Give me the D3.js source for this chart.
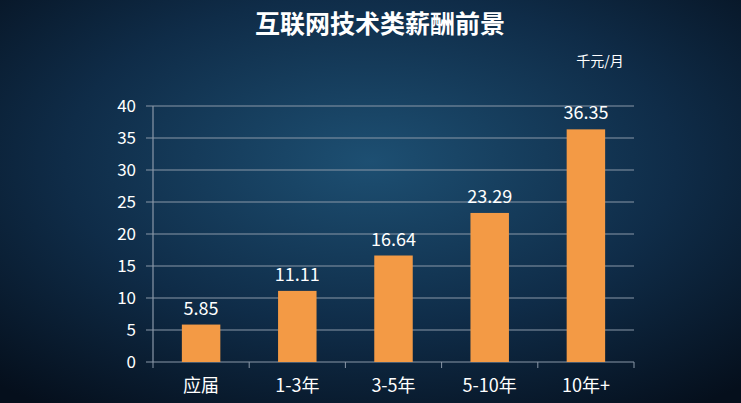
<!DOCTYPE html><html><head><meta charset="utf-8"><script src="https://cdn.jsdelivr.net/npm/d3@7"></script>
<style>body{margin:0;}svg{display:block;}</style></head><body><svg id="c" width="741" height="403"></svg>
<script>
const categories=["应届","1-3年","3-5年","5-10年","10年+"];
const values=[5.85,11.11,16.64,23.29,36.35];
const yTicks=[0,5,10,15,20,25,30,35,40];
const title="互联网技术类薪酬前景";
const unit="千元/月";
const svg=d3.select("#c");
const defs=svg.append("defs");
const g0=defs.append("radialGradient").attr("id","bg").attr("cx","50%").attr("cy","40%").attr("r","75%");
g0.append("stop").attr("offset","0%").attr("stop-color","#1d4f72");
g0.append("stop").attr("offset","55%").attr("stop-color","#0f2c48");
g0.append("stop").attr("offset","100%").attr("stop-color","#050f1c");
svg.append("rect").attr("width",741).attr("height",403).attr("fill","url(#bg)");
const font="'Noto Sans CJK SC','Noto Sans',sans-serif";
svg.append("text").attr("x",380).attr("y",33).attr("text-anchor","middle").attr("fill","#fff")
 .attr("font-family",font).attr("font-weight","bold").attr("font-size",25).text(title);
svg.append("text").attr("x",600).attr("y",66).attr("text-anchor","middle").attr("fill","#fff")
 .attr("font-family",font).attr("font-size",14).text(unit);
const x=d3.scaleBand().domain(categories).range([153,634]).paddingInner(0.6).paddingOuter(0.3);
const y=d3.scaleLinear().domain([0,40]).range([362,106]);
svg.append("g").selectAll("line").data(yTicks).join("line")
 .attr("x1",146).attr("x2",634).attr("y1",d=>y(d)).attr("y2",d=>y(d))
 .attr("stroke","#8a98a8").attr("stroke-width",1.2);
svg.append("line").attr("x1",153).attr("x2",153).attr("y1",106).attr("y2",362).attr("stroke","#8a98a8").attr("stroke-width",1.2);
const step=(634-153)/categories.length;
svg.append("g").selectAll("line").data(d3.range(categories.length+1)).join("line")
 .attr("x1",d=>153+d*step).attr("x2",d=>153+d*step).attr("y1",362).attr("y2",368).attr("stroke","#8a98a8");
svg.append("g").selectAll("text").data(yTicks).join("text")
 .attr("x",136).attr("y",d=>y(d)+6).attr("text-anchor","end").attr("fill","#fff")
 .attr("font-family",font).attr("font-size",17).text(d=>d);
svg.append("g").selectAll("rect").data(values).join("rect")
 .attr("x",(d,i)=>x(categories[i])).attr("width",x.bandwidth())
 .attr("y",d=>y(d)).attr("height",d=>y(0)-y(d)).attr("fill","#f39a45");
svg.append("g").selectAll("text").data(values).join("text")
 .attr("x",(d,i)=>x(categories[i])+x.bandwidth()/2).attr("y",d=>y(d)-10).attr("text-anchor","middle")
 .attr("fill","#fff").attr("font-family",font).attr("font-size",18).text(d=>d.toFixed(2));
svg.append("g").selectAll("text").data(categories).join("text")
 .attr("x",d=>x(d)+x.bandwidth()/2).attr("y",392).attr("text-anchor","middle")
 .attr("fill","#fff").attr("font-family",font).attr("font-size",18).text(d=>d);
</script></body></html>
